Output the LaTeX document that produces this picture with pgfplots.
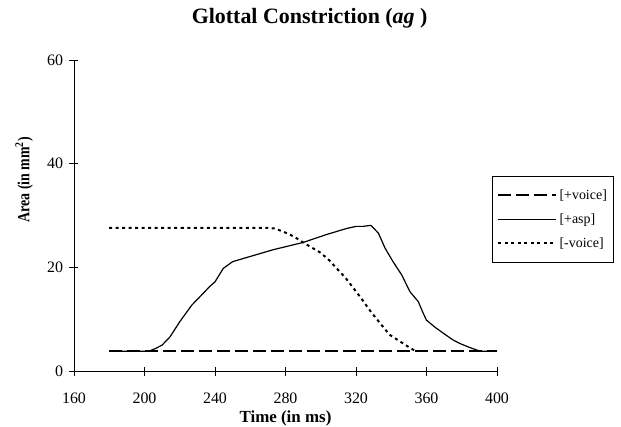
\documentclass[border=0pt]{standalone}
\usepackage{pgfplots}
\pgfplotsset{compat=1.18}
\usepackage{fontspec}
\setmainfont{Liberation Serif}
\begin{document}
\begin{tikzpicture}
\begin{axis}[
  at={(0,0)}, anchor=south west,
  scale only axis, width=423bp, height=311bp,
  xmin=160, xmax=400, ymin=0, ymax=60,
  xtick={160,200,...,400}, ytick={0,20,40,60},
  axis x line*=bottom, axis y line*=left,
  tick align=center, major tick length=9bp,
  tick style={black, line width=0.8bp},
  axis line style={black, line width=0.8bp},
  /pgf/number format/assume math mode=true,
  ticklabel style={font=\fontsize{16}{18}\selectfont},
  xticklabel style={anchor=base, yshift=-28bp},
  yticklabel style={anchor=east, xshift=-3bp},
  title={\textbf{Glottal Constriction (\textit{ag} )}},
  title style={font=\fontsize{22}{26}\selectfont, at={(axis description cs:0.557,1.115)}, anchor=center},
  xlabel={\textbf{Time (in ms)}},
  xlabel style={font=\fontsize{17}{20}\selectfont, at={(axis description cs:0.5,-0.167)}, anchor=base},
  ylabel={\scalebox{0.82}[1]{\textbf{Area (in mm\textsuperscript{2})}}},
  ylabel style={font=\fontsize{17}{20}\selectfont, at={(axis description cs:-0.118,0.615)}, anchor=center, rotate=0},
  legend style={at={(0.988,0.627)}, anchor=north west, draw=black, line width=0.8bp,
    font=\fontsize{14}{16}\selectfont, row sep=9bp, inner xsep=5bp, inner ysep=11bp,
    nodes={inner sep=2bp}},
  legend cell align=left,
  legend image code/.code={\draw[#1] (0bp,0bp) -- (58bp,0bp);},
  clip=false,
]
\addplot[black, line width=2.2bp, dash pattern=on 13bp off 5bp] coordinates {(180,3.8) (400,3.8)};
\addlegendentry{[+voice]}
\addplot[black, line width=1.2bp] coordinates {
(180,3.8) (200,3.8) (203,3.9) (206,4.3) (210,5.0) (214.5,6.6) (220,9.5) (226.8,12.7) (232.5,14.7) (237,16.3) (240,17.2) (244.7,19.8) (250,21.1) (258,21.9) (273,23.4) (290,24.8) (303,26.3) (314.7,27.5) (320,27.9) (324,27.9) (328.5,28.1) (332.7,26.6) (336.5,23.7) (341,21.1) (346,18.5) (350.6,15.3) (355.3,13.4) (358.2,11.1) (360,9.8) (365,8.4) (369.5,7.3) (375,6.0) (379,5.3) (384,4.6) (388.5,4.05) (391,3.8) (400,3.8)};
\addlegendentry{[+asp]}
\addplot[black, line width=2bp, dash pattern=on 3bp off 3.5bp] coordinates {
(180,27.6) (270,27.6) (274,27.5) (280.7,26.6) (285,25.9) (290,24.8) (295,23.8) (300,22.8) (305,21.3) (309,19.8) (314,18) (318.5,16) (323,14) (328.5,11.4) (333,9.5) (339,7) (345,5.7) (350,4.6) (354,3.8)};
\addlegendentry{[-voice]}
\end{axis}
\pgfresetboundingbox
\path[use as bounding box] (-74bp,-56bp) rectangle (547bp,371bp);
\end{tikzpicture}
\end{document}
